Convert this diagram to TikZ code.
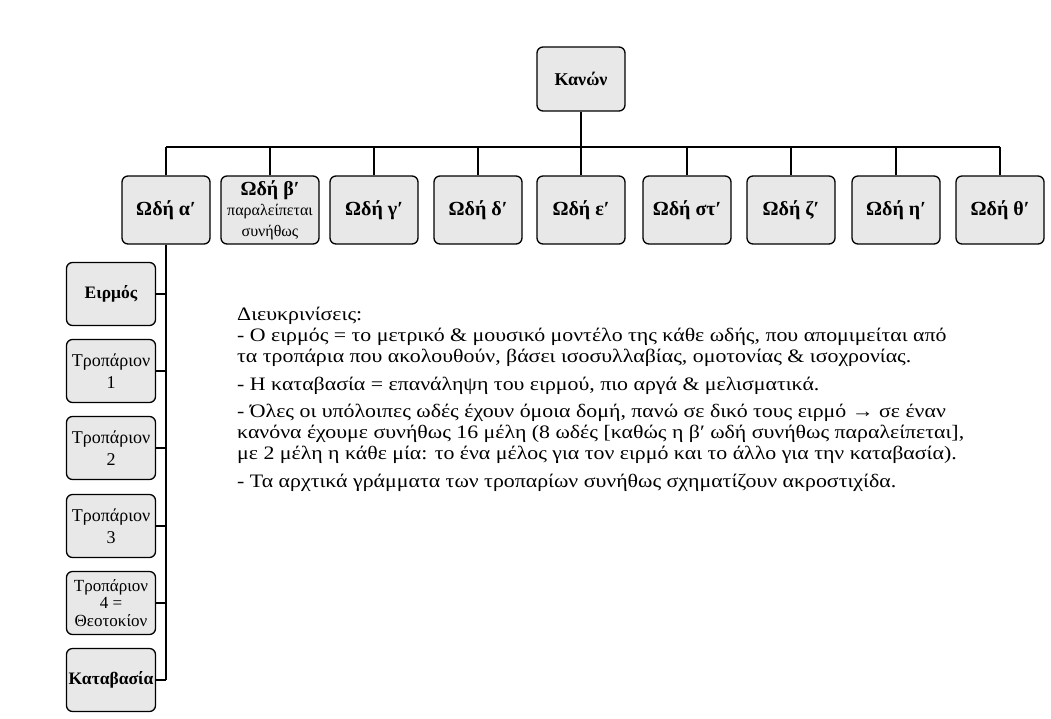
\documentclass[tikz,border=0pt]{standalone}
\usepackage{fontspec}
\setmainfont{Liberation Serif}
\newfontfamily\notesfont[FakeStretch=1.15]{Liberation Serif}
\usetikzlibrary{positioning}

\definecolor{boxgray}{gray}{0.91}

\newcommand{\notefont}{\fontsize{16}{17}\selectfont\mdseries}

\tikzset{
  box/.style={draw, line width=1.3pt, rounded corners=6pt, fill=boxgray,
    minimum width=88pt, minimum height=68pt, align=center, inner sep=1pt,
    font=\fontsize{20}{21}\selectfont\bfseries},
  widebox/.style={box, minimum width=98pt},
  sidebox/.style={box, minimum width=89pt, minimum height=63pt,
    font=\fontsize{18}{22}\selectfont},
  sidebold/.style={sidebox, font=\fontsize{17.5}{22}\selectfont\bfseries},
  sidesmall/.style={sidebox, font=\fontsize{17}{17.5}\selectfont},
  link/.style={line width=2.6pt}
}

\begin{document}
\begin{tikzpicture}[x=1pt, y=-1pt]

\useasboundingbox (0,0) rectangle (1051,718);

% The root of the tree
\node [box, minimum height=64pt, font=\fontsize{18}{20}\selectfont\bfseries] (kanon) at (581,79) {Κανών};
\coordinate (bus) at (581,147);

% The nine odes
\foreach \idx/\xpos/\sty/\lab in {
  1/166/box/{Ωδή αʹ},
  2/270/widebox/{Ωδή βʹ\\[-1pt]{\notefont παραλείπεται}\\{\notefont συνήθως}},
  3/374/box/{Ωδή γʹ},
  4/478/box/{Ωδή δʹ},
  5/581/box/{Ωδή εʹ},
  6/687/box/{Ωδή στʹ},
  7/791/box/{Ωδή ζʹ},
  8/896/box/{Ωδή ηʹ},
  9/1000/box/{Ωδή θʹ}} {
  \node [\sty] (o\idx) at (\xpos,210) {\lab};
  \draw [link] (o\idx.north) -- (o\idx |- bus);
}
\draw [link] (o1 |- bus) -- (o9 |- bus);
\draw [link] (kanon.south) -- (kanon |- bus);

% The parts of the first ode
\foreach \idx/\ypos/\sty/\lab in {
  1/294/sidebold/{Ειρμός},
  2/371/sidebox/{Τροπάριον\\1},
  3/448/sidebox/{Τροπάριον\\2},
  4/526/sidebox/{Τροπάριον\\3},
  5/603/sidesmall/{Τροπάριον\\4 =\\Θεοτοκίον},
  6/680/sidebold/{Καταβασία}} {
  \node [\sty] (p\idx) at (111,\ypos) {\lab};
  \draw [link] (p\idx.east) -- (p\idx.east -| o1.south);
}
\draw [link] (o1.south) -- (o1.south |- p6.east);

% The notes (base is the last line)
\node [anchor=base west, inner sep=0pt, align=left,
  font=\notesfont\fontsize{19}{21}\selectfont] (notes) at (237,487) {%
  Διευκρινίσεις:\\
  - Ο ειρμός = το μετρικό \& μουσικό μοντέλο της κάθε ωδής, που απομιμείται από\\
  τα τροπάρια που ακολουθούν, βάσει ισοσυλλαβίας, ομοτονίας \& ισοχρονίας.\\[6.5pt]
  - Η καταβασία = επανάληψη του ειρμού, πιο αργά \& μελισματικά.\\[6.5pt]
  - Όλες οι υπόλοιπες ωδές έχουν όμοια δομή, πανώ σε δικό τους ειρμό → σε έναν\\
  κανόνα έχουμε συνήθως 16 μέλη (8 ωδές [καθώς η βʹ ωδή συνήθως παραλείπεται],\\
  με 2 μέλη η κάθε μία: το ένα μέλος για τον ειρμό και το άλλο για την καταβασία).\\[6.5pt]
  - Τα αρχτικά γράμματα των τροπαρίων συνήθως σχηματίζουν ακροστιχίδα.};

\end{tikzpicture}
\end{document}
